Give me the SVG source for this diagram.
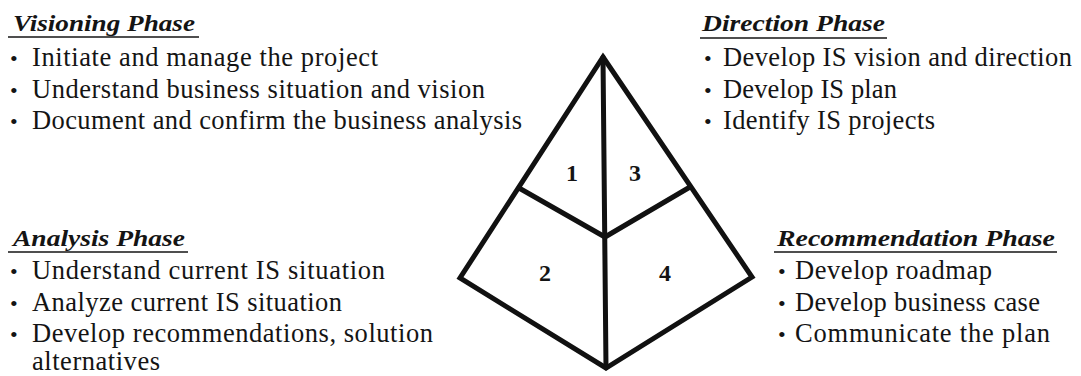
<svg xmlns="http://www.w3.org/2000/svg" width="1081" height="376" viewBox="0 0 1081 376">
<style>
.t{font-family:"Liberation Serif","DejaVu Serif",serif;font-size:26.5px;fill:#141414}
.b{font-family:"Liberation Serif","DejaVu Serif",serif;font-size:22px;fill:#141414}
.h{font-family:"Liberation Serif","DejaVu Serif",serif;font-size:24px;font-weight:bold;font-style:italic;fill:#141414}
.u{stroke:#141414;stroke-width:1.6}
.n{font-family:"Liberation Serif","DejaVu Serif",serif;font-size:24px;font-weight:bold;fill:#141414;text-anchor:middle}
.p{fill:none;stroke:#111;stroke-width:5;stroke-linejoin:miter;stroke-linecap:round}
</style>
<rect width="1081" height="376" fill="#fff"/>
<g id="visioning">
<text class="h" x="13" y="31" textLength="182" lengthAdjust="spacingAndGlyphs">Visioning Phase</text>
<line class="u" x1="8" y1="37" x2="199" y2="37"/>
<text class="b" x="10" y="66">•</text>
<text class="t" x="32" y="66" textLength="346" lengthAdjust="spacing">Initiate and manage the project</text>
<text class="b" x="10" y="98">•</text>
<text class="t" x="32" y="98" textLength="453" lengthAdjust="spacing">Understand business situation and vision</text>
<text class="b" x="10" y="129">•</text>
<text class="t" x="32" y="129" textLength="490" lengthAdjust="spacing">Document and confirm the business analysis</text>
</g>
<g id="direction">
<text class="h" x="702" y="31" textLength="183" lengthAdjust="spacingAndGlyphs">Direction Phase</text>
<line class="u" x1="700" y1="38" x2="887" y2="38"/>
<text class="b" x="704" y="66">•</text>
<text class="t" x="723" y="66" textLength="349" lengthAdjust="spacing">Develop IS vision and direction</text>
<text class="b" x="704" y="98">•</text>
<text class="t" x="723" y="98" textLength="174" lengthAdjust="spacing">Develop IS plan</text>
<text class="b" x="704" y="129">•</text>
<text class="t" x="723" y="129" textLength="212" lengthAdjust="spacing">Identify IS projects</text>
</g>
<g id="analysis">
<text class="h" x="13" y="246" textLength="172" lengthAdjust="spacingAndGlyphs">Analysis Phase</text>
<line class="u" x1="8" y1="252" x2="188" y2="252"/>
<text class="b" x="10" y="279">•</text>
<text class="t" x="32" y="279" textLength="353" lengthAdjust="spacing">Understand current IS situation</text>
<text class="b" x="10" y="311">•</text>
<text class="t" x="32" y="311" textLength="310" lengthAdjust="spacing">Analyze current IS situation</text>
<text class="b" x="10" y="342">•</text>
<text class="t" x="32" y="342" textLength="401" lengthAdjust="spacing">Develop recommendations, solution</text>
<text class="t" x="32" y="370" textLength="128" lengthAdjust="spacing">alternatives</text>
</g>
<g id="recommendation">
<text class="h" x="777" y="246" textLength="278" lengthAdjust="spacingAndGlyphs">Recommendation Phase</text>
<line class="u" x1="774" y1="252" x2="1057" y2="252"/>
<text class="b" x="778" y="279">•</text>
<text class="t" x="795" y="279" textLength="197" lengthAdjust="spacing">Develop roadmap</text>
<text class="b" x="778" y="311">•</text>
<text class="t" x="795" y="311" textLength="245" lengthAdjust="spacing">Develop business case</text>
<text class="b" x="778" y="342">•</text>
<text class="t" x="795" y="342" textLength="255" lengthAdjust="spacing">Communicate the plan</text>
</g>
<g id="connectors">
<path class="p" d="M603,57 L752,277 L606,368 L460,278 Z"/>
<path class="p" d="M603,57 L606,368"/>
<path class="p" d="M519,188 L605,237 L690,187"/>
</g>
<g id="segment-1"><text class="n" x="572" y="181">1</text></g>
<g id="segment-3"><text class="n" x="635" y="181">3</text></g>
<g id="segment-2"><text class="n" x="545" y="281">2</text></g>
<g id="segment-4"><text class="n" x="665" y="281">4</text></g>
</svg>
